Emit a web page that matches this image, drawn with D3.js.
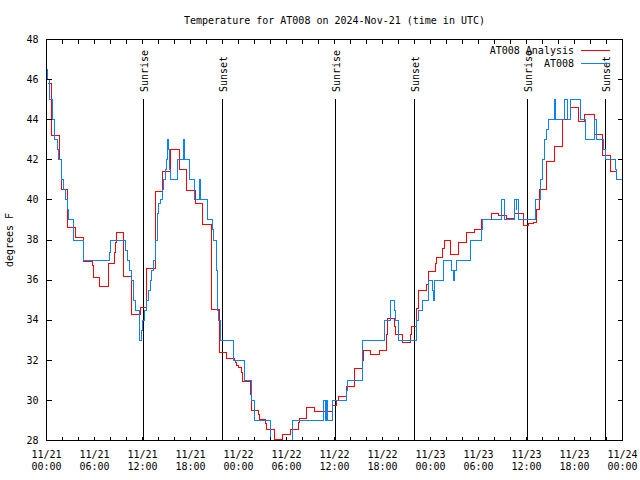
<!DOCTYPE html>
<html><head><meta charset="utf-8">
<script src="https://cdn.jsdelivr.net/npm/d3@7"></script>
<style>body{margin:0;background:#fff}</style>
</head><body><svg id="c" width="640" height="480"></svg>
<script>
// ---- data (hours since 2024-11-21 00:00 UTC) ----
const obsHours=[0.0,0.08,0.35,0.7,0.8,1.05,1.38,1.55,1.92,2.17,2.33,2.58,2.75,3.42,4.67,7.875,8.04,9.92,10.08,10.42,10.58,10.92,11.17,11.58,11.67,11.92,12.0,12.2,12.45,12.7,12.95,13.15,13.4,13.6,13.85,13.98,14.19,14.48,14.6,14.85,15.02,15.1,15.15,15.25,15.35,15.48,16.4,17.1,17.19,17.85,18.56,19.1,19.19,20.1,20.69,20.85,21.19,21.35,21.52,21.77,23.35,24.73,25.65,25.98,28.02,30.73,34.62,34.85,35.02,35.15,35.73,37.52,37.6,39.45,42.23,42.98,43.48,43.6,43.98,46.27,46.48,46.94,47.78,48.27,48.35,48.52,49.62,50.6,50.85,51.06,51.19,53.06,54.4,54.52,56.9,57.2,58.56,58.69,58.8,58.98,61.15,61.77,62.02,62.31,62.56,62.77,63.44,63.65,64.69,65.15,65.44,66.7,67.35,68.56,68.69,69.6,69.85,71.15,71.27,72.0];
const obsTemps=[46.5,46.0,45.0,44.5,44.0,43.0,42.5,42.0,41.0,40.5,40.0,39.5,39.0,38.0,37.0,37.4,38.0,37.5,37.0,36.5,36.0,35.0,34.5,34.0,33.0,33.5,34.0,34.5,35.0,35.5,36.0,36.5,37.0,38.0,39.3,39.8,40.0,40.5,41.0,41.5,42.0,42.5,43.0,42.5,41.5,41.0,42.0,43.0,42.0,41.0,40.0,41.0,40.0,39.0,38.5,38.0,36.5,34.5,34.0,33.0,32.0,31.0,30.0,29.0,27.5,29.0,30.0,29.0,30.0,29.0,30.0,30.5,31.0,33.0,34.0,35.0,34.5,34.0,33.0,34.0,34.5,35.0,36.0,35.5,35.0,36.0,37.0,36.5,36.0,36.5,37.0,38.0,38.5,39.0,40.0,39.0,40.0,39.5,40.0,39.0,40.0,41.0,42.0,43.0,43.5,44.0,45.0,44.0,45.0,44.0,45.0,44.0,43.0,44.0,43.0,42.5,42.0,41.5,41.0,41.0];

const anaHours=[0.1,0.6,1.6,1.85,2.58,2.67,3.62,4.67,5.71,5.83,5.92,6.67,7.71,8.5,8.67,8.75,9.67,10.58,10.67,11.75,12.55,13.6,14.55,15.56,16.6,17.55,18.58,19.55,20.58,21.6,22.5,23.45,23.6,23.8,24.0,24.4,24.55,25.5,25.62,26.5,26.6,27.4,27.55,28.5,29.5,30.5,31.5,31.65,32.55,33.56,35.7,36.3,36.55,37.5,38.5,39.45,39.6,40.5,41.6,42.45,42.6,43.5,43.6,44.5,45.45,45.6,46.2,46.55,47.55,47.7,47.8,48.65,48.75,49.55,49.7,50.52,51.56,52.52,53.5,54.4,55.6,56.5,57.5,58.56,59.6,60.3,60.85,61.2,61.6,62.5,63.5,64.55,65.45,66.5,67.25,68.55,69.45,70.5,71.3,72.0];
const anaTemps=[45.83,43.2,42.0,40.5,39.6,38.6,38.1,36.95,36.75,36.4,36.15,35.67,36.83,37.37,37.87,38.38,36.2,36.08,34.3,34.65,36.6,40.4,41.4,42.5,41.5,40.45,39.83,38.75,34.55,32.4,32.1,32.0,31.9,31.75,31.65,31.4,30.95,30.3,29.5,29.28,29.05,28.83,28.53,28.03,28.3,28.55,28.9,29.1,29.63,29.47,29.75,30.0,30.2,30.7,31.6,32.0,32.5,32.3,32.5,33.3,34.1,33.7,33.3,32.9,33.3,33.7,34.6,35.5,35.8,36.3,36.45,36.85,37.13,37.6,37.97,37.3,37.87,38.37,38.53,39.03,39.33,39.2,39.08,39.3,38.7,38.8,38.87,39.5,40.5,41.9,42.67,44.03,44.63,43.92,44.25,43.25,42.2,41.42,41.03,41.03];

const sunHours=[12.12,22.0,36.12,46.0,60.12,69.88];
const sunLabels=["Sunrise","Sunset","Sunrise","Sunset","Sunrise","Sunset"];
const yTicks=[28,30,32,34,36,38,40,42,44,46,48];
const seriesNames=["AT008 Analysis","AT008"];
const seriesColors=["#ff0000","#0a80ff"];
const titleText="Temperature for AT008 on 2024-Nov-21 (time in UTC)";
const yLabel="degrees F";

// ---- setup ----
const FONT='"DejaVu Sans Mono", "Liberation Mono", monospace';
const t0=Date.UTC(2024,10,21);
const toDate=h=>new Date(t0+h*3600000);
const L=46.5,R=622.5,T=39.5,B=440.5;
const x=d3.scaleUtc().domain([toDate(0),toDate(72)]).range([L,R]);
const y=d3.scaleLinear().domain([28,48]).range([B,T]);
const svg=d3.select("#c");
svg.append("rect").attr("width",640).attr("height",480).attr("fill","#fff");

const px=v=>Math.round(v-0.5)+0.5;

// clip
svg.append("clipPath").attr("id","clip").append("rect")
  .attr("x",L).attr("y",T).attr("width",R-L).attr("height",B-T);

// sunrise / sunset
const sun=svg.append("g");
sunHours.forEach((h,i)=>{
  const sx=px(x(toDate(h)));
  sun.append("line").attr("x1",sx).attr("x2",sx).attr("y1",99).attr("y2",B)
    .attr("stroke","#000").attr("stroke-width",1).attr("shape-rendering","crispEdges");
  sun.append("text").attr("transform",`translate(${sx+4.5},92) rotate(-90)`)
    .attr("font-family",FONT).attr("font-size",10).attr("fill","#000")
    .text(sunLabels[i]);
});

// data lines
const line=d3.line().x(d=>px(x(d[0]))).y(d=>px(y(d[1]))).curve(d3.curveStepAfter);
const ana=anaHours.map((h,i)=>[toDate(h),anaTemps[i]]);
const obs=obsHours.map((h,i)=>[toDate(h),obsTemps[i]]);
const plot=svg.append("g").attr("clip-path","url(#clip)");
[ana,obs].forEach((d,i)=>{
  plot.append("path").datum(d).attr("d",line).attr("fill","none")
    .attr("stroke",seriesColors[i]).attr("stroke-width",1).attr("shape-rendering","crispEdges");
});

// axes
function styleAxis(g){
  g.attr("font-family",FONT).attr("font-size",10);
  g.select(".domain").remove();
  g.selectAll(".tick line").attr("stroke","#000").attr("shape-rendering","crispEdges");
  g.selectAll("text").attr("fill","#000");
}
const gl=svg.append("g").attr("transform",`translate(${L},0)`)
  .call(d3.axisLeft(y).tickValues(yTicks).tickSizeInner(-5).tickSizeOuter(0).tickPadding(8).offset(0));
styleAxis(gl);
const gr=svg.append("g").attr("transform",`translate(${R},0)`)
  .call(d3.axisRight(y).tickValues(yTicks).tickSizeInner(-5).tickSizeOuter(0).tickFormat("").offset(0));
styleAxis(gr);
const fmtD=d3.utcFormat("%m/%d"), fmtT=d3.utcFormat("%H:%M");
const gb=svg.append("g").attr("transform",`translate(0,${B})`)
  .call(d3.axisBottom(x).ticks(d3.utcHour.every(2)).tickSizeInner(-4).tickSizeOuter(0).offset(0)
    .tickFormat(d=>d.getUTCHours()%6===0?fmtD(d)+"|"+fmtT(d):""));
styleAxis(gb);
gb.selectAll(".tick text").each(function(){
  const s=d3.select(this), parts=s.text().split("|");
  s.text("").attr("dy",null).attr("y",null);
  if(parts.length<2) return;
  s.append("tspan").attr("x",0).attr("y",17).text(parts[0]);
  s.append("tspan").attr("x",0).attr("y",29.5).text(parts[1]);
});
const gt=svg.append("g").attr("transform",`translate(0,${T})`)
  .call(d3.axisTop(x).ticks(d3.utcHour.every(2)).tickSizeInner(-4).tickSizeOuter(0).tickFormat("").offset(0));
styleAxis(gt);

// frame
svg.append("rect").attr("x",L).attr("y",T).attr("width",R-L).attr("height",B-T)
  .attr("fill","none").attr("stroke","#000").attr("shape-rendering","crispEdges");

// title & y label
svg.append("text").attr("x",(L+R)/2).attr("y",24).attr("text-anchor","middle")
  .attr("font-family",FONT).attr("font-size",10).text(titleText);
svg.append("text").attr("transform","translate(13,240) rotate(-90)").attr("text-anchor","middle")
  .attr("font-family",FONT).attr("font-size",10).text(yLabel);

// legend
const lg=svg.append("g");
seriesNames.forEach((n,i)=>{
  const ly=50+i*13;
  lg.append("text").attr("x",574).attr("y",ly+3.5).attr("text-anchor","end")
    .attr("font-family",FONT).attr("font-size",10).text(n);
  lg.append("line").attr("x1",581).attr("x2",610).attr("y1",ly+0.5).attr("y2",ly+0.5)
    .attr("stroke",seriesColors[i]).attr("shape-rendering","crispEdges");
});
</script></body></html>
